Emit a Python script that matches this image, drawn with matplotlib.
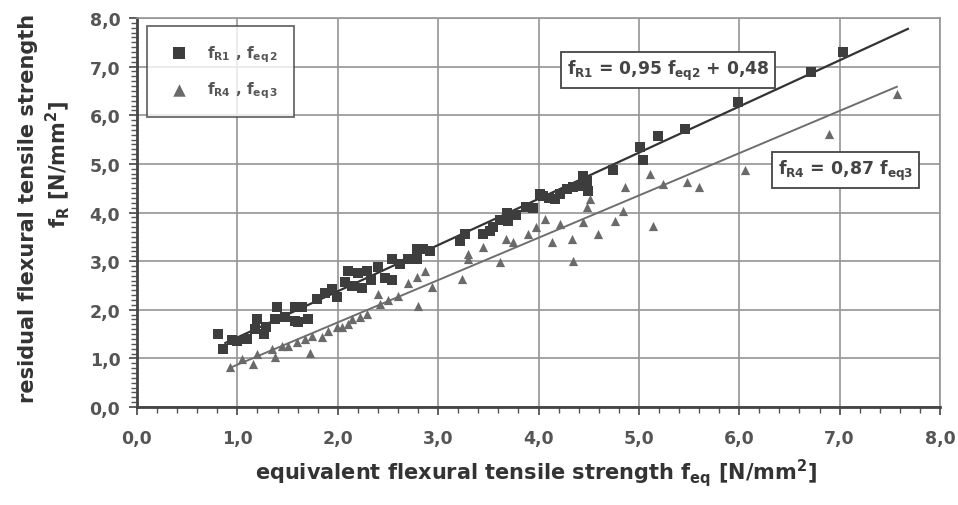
import matplotlib
matplotlib.use("Agg")
import matplotlib.pyplot as plt
from matplotlib.ticker import MultipleLocator, FuncFormatter
import numpy as np

plt.rcParams['font.family'] = ['DejaVu Sans']
plt.rcParams['font.weight'] = 'bold'
plt.rcParams['mathtext.fontset'] = 'custom'
plt.rcParams['mathtext.rm'] = 'DejaVu Sans:bold'
plt.rcParams['mathtext.it'] = 'DejaVu Sans:bold'
plt.rcParams['mathtext.bf'] = 'DejaVu Sans:bold'

# fR1 vs feq2 (squares)
feq2 = [0.81, 0.86, 0.95, 1.00, 1.10, 1.18, 1.20, 1.27, 1.29, 1.37, 1.39, 1.47, 1.57, 1.57,
        1.60, 1.64, 1.70, 1.79, 1.87, 1.94, 1.99, 2.07, 2.10, 2.14, 2.20, 2.24, 2.29, 2.33,
        2.40, 2.47, 2.54, 2.54, 2.62, 2.70, 2.79, 2.79, 2.85, 2.92, 3.22, 3.27, 3.45, 3.52,
        3.55, 3.62, 3.69, 3.70, 3.78, 3.88, 3.95, 4.01, 4.04, 4.10, 4.16, 4.21, 4.28, 4.34,
        4.40, 4.44, 4.48, 4.49, 4.74, 5.01, 5.04, 5.19, 5.46, 5.99, 6.71, 7.03]
fR1 = [1.50, 1.20, 1.38, 1.36, 1.40, 1.60, 1.81, 1.50, 1.64, 1.80, 2.05, 1.85, 1.77, 2.05,
       1.75, 2.06, 1.80, 2.22, 2.35, 2.43, 2.26, 2.57, 2.80, 2.49, 2.75, 2.45, 2.80, 2.62,
       2.88, 2.65, 3.05, 2.62, 2.95, 3.05, 3.25, 3.05, 3.25, 3.20, 3.42, 3.55, 3.55, 3.62,
       3.70, 3.85, 4.00, 3.83, 3.95, 4.12, 4.10, 4.38, 4.34, 4.30, 4.28, 4.38, 4.48, 4.53,
       4.55, 4.75, 4.65, 4.45, 4.88, 5.35, 5.08, 5.58, 5.72, 6.28, 6.89, 7.30]

# fR4 vs feq3 (triangles)
feq3 = [0.93, 1.05, 1.16, 1.20, 1.34, 1.37, 1.44, 1.50, 1.59, 1.67, 1.72, 1.74, 1.84, 1.90,
        1.99, 2.04, 2.10, 2.14, 2.22, 2.29, 2.40, 2.42, 2.50, 2.60, 2.70, 2.79, 2.80, 2.87,
        2.94, 3.24, 3.30, 3.30, 3.45, 3.62, 3.68, 3.75, 3.90, 3.98, 4.06, 4.13, 4.21, 4.33,
        4.34, 4.44, 4.48, 4.51, 4.59, 4.76, 4.84, 4.86, 5.11, 5.14, 5.24, 5.48, 5.60, 6.06,
        6.89, 7.57]
fR4 = [0.82, 0.99, 0.88, 1.09, 1.19, 1.03, 1.26, 1.26, 1.34, 1.40, 1.12, 1.46, 1.44, 1.56,
       1.64, 1.64, 1.71, 1.81, 1.85, 1.91, 2.33, 2.12, 2.20, 2.28, 2.55, 2.67, 2.07, 2.80,
       2.47, 2.63, 3.05, 3.15, 3.30, 2.98, 3.45, 3.40, 3.55, 3.70, 3.87, 3.39, 3.77, 3.46,
       3.00, 3.80, 4.12, 4.28, 3.56, 3.83, 4.03, 4.53, 4.80, 3.72, 4.59, 4.63, 4.53, 4.88,
       5.62, 6.44]

# regression lines
fit1_slope, fit1_icpt, fit1_range = 0.95, 0.48, (0.88, 7.68)
fit4_slope, fit4_icpt, fit4_range = 0.87, 0.0, (0.93, 7.57)

fig = plt.figure(figsize=(9.58, 5.06), dpi=100)
ax = fig.add_axes([137/958, 1-408/506, (940-137)/958, (408-19)/506])
ax.set_xlim(0, 8)
ax.set_ylim(0, 8)

ax.grid(True, which='major', color='#959595', linewidth=1.2)
ax.set_axisbelow(True)

x1 = np.array(fit1_range)
ax.plot(x1, fit1_slope * x1 + fit1_icpt, color='#333333', lw=1.6, zorder=3)
x4 = np.array(fit4_range)
ax.plot(x4, fit4_slope * x4 + fit4_icpt, color='#6e6e6e', lw=1.4, zorder=3)

ax.scatter(feq2, fR1, marker='s', s=46, color='#3d3d3d', zorder=4, linewidths=0,
           label=r'$f_{R1}$ , $f_{eq\,2}$')
ax.scatter(feq3, fR4, marker='^', s=44, color='#6a6a6a', zorder=4, linewidths=0,
           label=r'$f_{R4}$ , $f_{eq\,3}$')

fmt = FuncFormatter(lambda v, p: f"{v:.1f}".replace('.', ','))
ax.xaxis.set_major_locator(MultipleLocator(1))
ax.yaxis.set_major_locator(MultipleLocator(1))
ax.xaxis.set_minor_locator(MultipleLocator(0.2))
ax.yaxis.set_minor_locator(MultipleLocator(0.1))
ax.xaxis.set_major_formatter(fmt)
ax.yaxis.set_major_formatter(fmt)
ax.tick_params(axis='both', which='major', length=6, width=1.2, color='#444444',
               labelsize=12.5, labelcolor='#555555', direction='out')
ax.tick_params(axis='both', which='minor', length=4, width=1.0, color='#555555',
               direction='out')
ax.tick_params(axis='x', pad=10)
ax.tick_params(axis='y', pad=6)

for side in ['left', 'bottom']:
    ax.spines[side].set_color('#444444')
    ax.spines[side].set_linewidth(2.0)
for side in ['top', 'right']:
    ax.spines[side].set_color('#959595')
    ax.spines[side].set_linewidth(1.2)

ax.set_xlabel(r'equivalent flexural tensile strength $f_{eq}$ [N/mm$^2$]',
              fontsize=15, fontweight='bold', color='#333333')
ax.xaxis.set_label_coords(0.497, -0.125)

fig.text(28/958, 1-208/506, 'residual flexural tensile strength', rotation=90,
         fontsize=15, fontweight='bold', color='#333333', ha='center', va='center')
fig.text(58/958, 1-164/506, r'$f_R$ [N/mm$^2$]', rotation=90,
         fontsize=15, fontweight='bold', color='#333333', ha='center', va='center')

leg = ax.legend(loc='upper left', bbox_to_anchor=(0.003, 0.998), fontsize=11,
                frameon=True, fancybox=False, edgecolor='#444444', borderpad=1.1,
                labelspacing=1.05, handletextpad=0.8, markerscale=1.35,
                labelcolor='#555555')
leg.get_frame().set_linewidth(1.3)

box = dict(boxstyle='square,pad=0.35', facecolor='white', edgecolor='#444444', lw=1.3)
ax.text(5.29, 6.93, r'$f_{R1}$ = 0,95 $f_{eq2}$ + 0,48', fontsize=12.3,
        color='#444444', ha='center', va='center', bbox=box, zorder=5)
ax.text(7.06, 4.88, r'$f_{R4}$ = 0,87 $f_{eq3}$', fontsize=12.5,
        color='#444444', ha='center', va='center', bbox=box, zorder=5)

fig.savefig('out.png', dpi=100)
